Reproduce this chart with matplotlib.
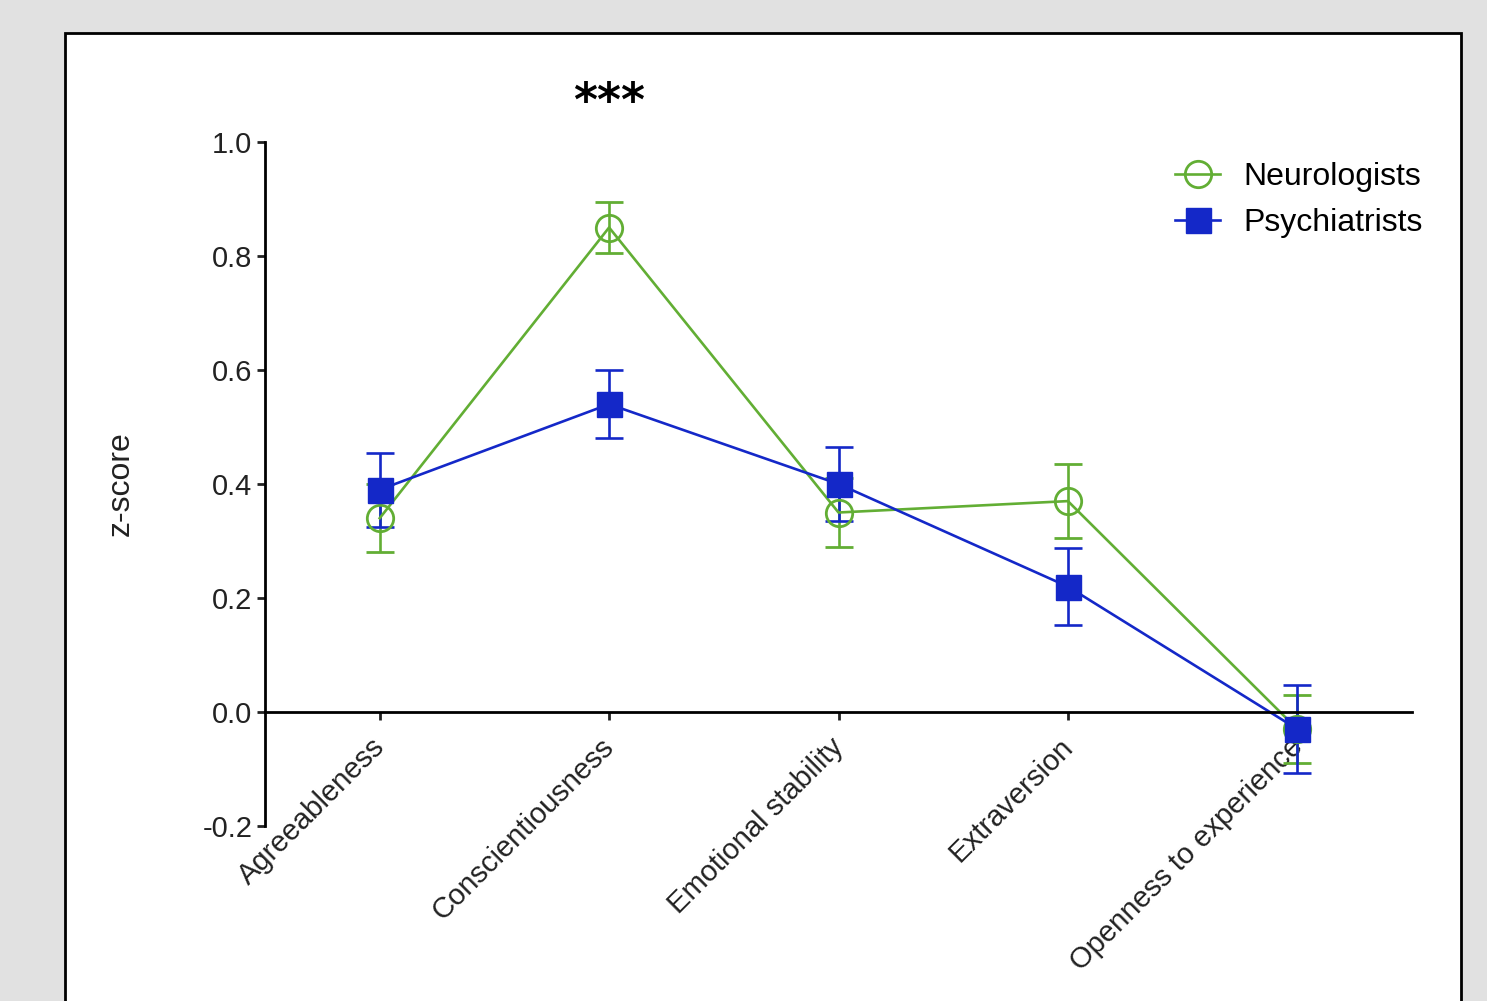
import matplotlib.pyplot as plt
from matplotlib.patches import Rectangle
from matplotlib.transforms import ScaledTranslation

plt.rcParams['font.family'] = ['Liberation Sans', 'DejaVu Sans']

traits = ['Agreeableness', 'Conscientiousness', 'Emotional stability',
          'Extraversion', 'Openness to experience']
neuro_mean = [0.34, 0.85, 0.35, 0.37, -0.03]
neuro_err = [0.06, 0.045, 0.06, 0.065, 0.06]
psych_mean = [0.39, 0.54, 0.40, 0.22, -0.03]
psych_err = [0.065, 0.06, 0.065, 0.068, 0.077]

green = '#62ae34'
blue = '#1428c8'

fig = plt.figure(figsize=(14.87, 10.01), dpi=100)
fig.patch.set_facecolor('#e1e1e1')

# white panel with black frame (runs past the bottom edge)
panel = Rectangle((65/1487, -0.2), (1461-65)/1487, 1.2 - 33/1001,
                  transform=fig.transFigure, facecolor='white',
                  edgecolor='black', linewidth=2, zorder=-1)
fig.add_artist(panel)

ax = fig.add_axes([265/1487, 1-826/1001, (1412-265)/1487, (826-142)/1001])
ax.set_facecolor('none')

x = range(len(traits))
eb_n = ax.errorbar(x, neuro_mean, yerr=neuro_err, color=green, lw=1.9,
                   marker='o', ms=19, mfc='none', mec=green, mew=2,
                   capsize=10, capthick=1.9, elinewidth=1.9)
eb_p = ax.errorbar(x, psych_mean, yerr=psych_err, color=blue, lw=1.9,
                   marker='s', ms=18, mfc=blue, mec=blue,
                   capsize=10, capthick=1.9, elinewidth=1.9)

ax.set_xlim(-0.5, 4.5)
ax.set_ylim(-0.2, 1.0)
ax.set_yticks([-0.2, 0.0, 0.2, 0.4, 0.6, 0.8, 1.0])
ax.set_yticklabels(['-0.2', '0.0', '0.2', '0.4', '0.6', '0.8', '1.0'])
ax.set_xticks(list(x))
ax.set_xticklabels(traits)

ax.spines['top'].set_visible(False)
ax.spines['right'].set_visible(False)
ax.spines['bottom'].set_position(('data', 0))
ax.spines['left'].set_linewidth(2)
ax.spines['bottom'].set_linewidth(2)
ax.tick_params(axis='both', direction='out', length=6, width=2,
               labelsize=21, pad=3, colors='#222222')
ax.tick_params(axis='x', pad=9)
shift = ScaledTranslation(-9/100, 0, fig.dpi_scale_trans)
for lbl in ax.get_xticklabels():
    lbl.set_rotation(45)
    lbl.set_ha('right')
    lbl.set_va('top')
    lbl.set_rotation_mode('anchor')
    lbl.set_transform(lbl.get_transform() + shift)

ax.set_ylabel('z-score', fontsize=23, labelpad=48, color='#222222')

ax.text(1, 1.068, '***', ha='center', va='center', fontsize=33,
        fontweight='bold', family='DejaVu Sans')

ax.legend(handles=[eb_n[0], eb_p[0]], labels=['Neurologists', 'Psychiatrists'],
          loc='upper right', bbox_to_anchor=(1452/1487, 1-133/1001),
          bbox_transform=fig.transFigure, frameon=False, fontsize=23,
          handlelength=1.4, handletextpad=0.75, labelspacing=0.5)

fig.savefig('out.png', dpi=100, facecolor=fig.get_facecolor())
